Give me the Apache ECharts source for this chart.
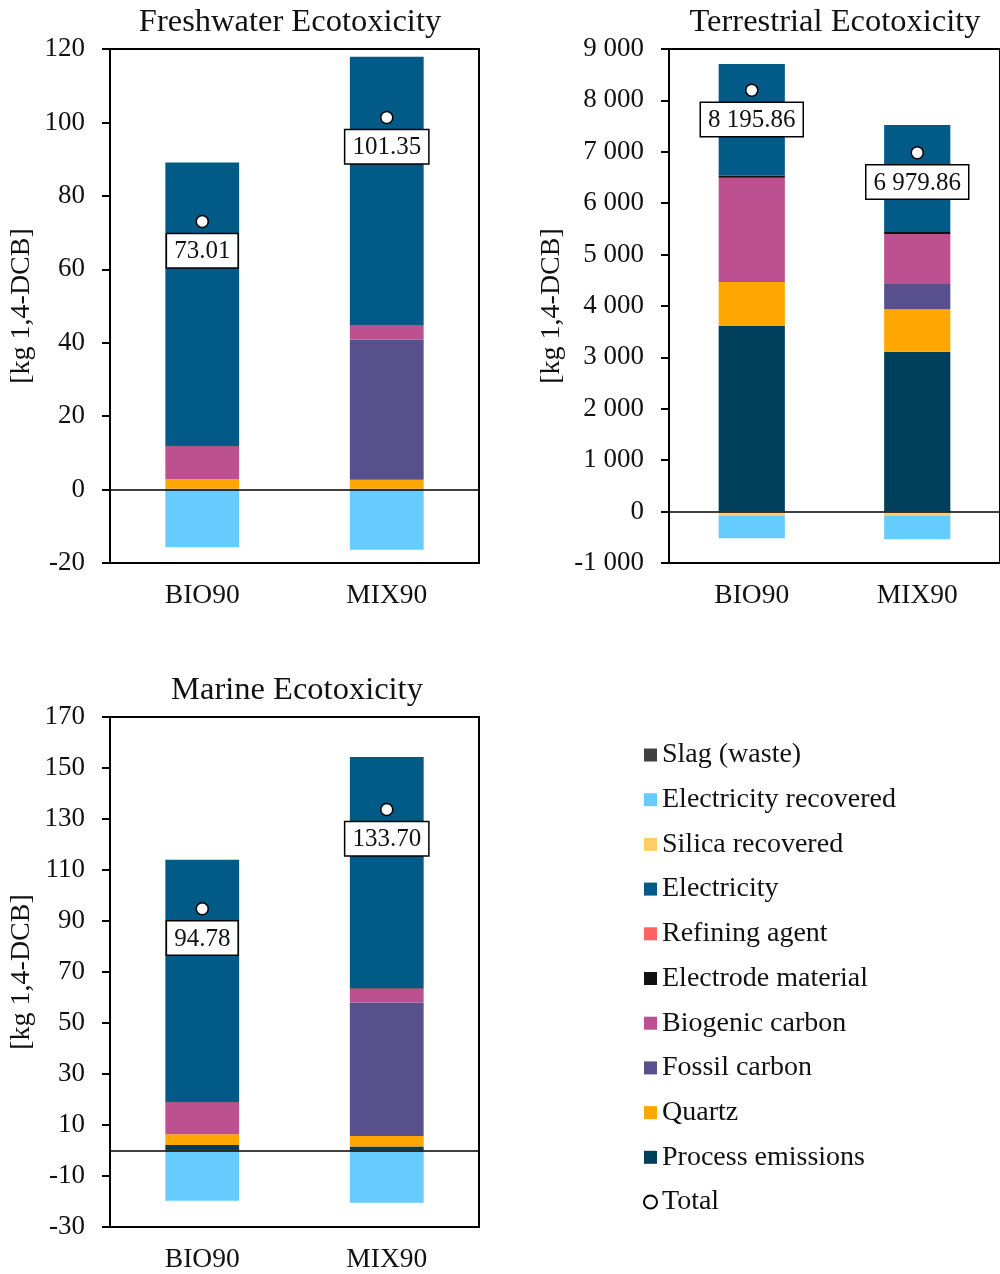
<!DOCTYPE html>
<html><head><meta charset="utf-8">
<script src="https://cdn.jsdelivr.net/npm/echarts@6/dist/echarts.min.js"></script>
<style>html,body{margin:0;padding:0;background:#fff}#c{width:1000px;height:1274px}</style>
</head><body><div id="c"></div>
<script>
const categories = ['BIO90', 'MIX90'];

// Freshwater Ecotoxicity [kg 1,4-DCB]
const fwProcess = [0.2, 0.2];
const fwQuartz = [2.7, 2.5];
const fwFossil = [0, 38.1];
const fwBiogenic = [8.9, 3.8];
const fwElectrode = [0.3, 0.1];
const fwRefining = [0, 0];
const fwElectricity = [77.0, 73.2];
const fwSilicaRec = [-0.1, -0.1];
const fwElecRec = [-15.6, -16.3];
const fwSlag = [0, 0];
const fwTotal = [73.01, 101.35];

// Terrestrial Ecotoxicity
const teProcess = [3610, 3110];
const teQuartz = [857, 826];
const teFossil = [0, 492];
const teBiogenic = [2030, 973];
const teElectrode = [40, 40];
const teRefining = [0, 0];
const teElectricity = [2170, 2080];
const teSilicaRec = [-75, -75];
const teElecRec = [-445, -465];
const teSlag = [0, 0];
const teTotal = [8195.86, 6979.86];

// Marine Ecotoxicity
const maProcess = [2.2, 1.6];
const maQuartz = [4.2, 4.1];
const maFossil = [0, 52.3];
const maBiogenic = [12.5, 5.5];
const maElectrode = [0.4, 0.2];
const maRefining = [0, 0];
const maElectricity = [94.7, 90.6];
const maSilicaRec = [-0.2, -0.2];
const maElecRec = [-19.5, -20.3];
const maSlag = [0, 0];
const maTotal = [94.78, 133.70];

const titles = ['Freshwater Ecotoxicity', 'Terrestrial Ecotoxicity', 'Marine Ecotoxicity'];
const yName = '[kg 1,4-DCB]';

const stackOrder = ['Process emissions','Quartz','Fossil carbon','Biogenic carbon','Electrode material','Refining agent','Electricity','Silica recovered','Electricity recovered','Slag (waste)'];
const legendOrder = ['Slag (waste)','Electricity recovered','Silica recovered','Electricity','Refining agent','Electrode material','Biogenic carbon','Fossil carbon','Quartz','Process emissions'];
const colors = {
  'Slag (waste)': '#404040',
  'Electricity recovered': '#66CCFF',
  'Silica recovered': '#FFCC66',
  'Electricity': '#025A87',
  'Refining agent': '#FF6361',
  'Electrode material': '#111111',
  'Biogenic carbon': '#BC5090',
  'Fossil carbon': '#58508D',
  'Quartz': '#FFA600',
  'Process emissions': '#003F5C'
};

const charts = [
  {key:'fw', arrs:[fwProcess,fwQuartz,fwFossil,fwBiogenic,fwElectrode,fwRefining,fwElectricity,fwSilicaRec,fwElecRec,fwSlag], total:fwTotal, min:-20, max:120, interval:20, sep:false},
  {key:'te', arrs:[teProcess,teQuartz,teFossil,teBiogenic,teElectrode,teRefining,teElectricity,teSilicaRec,teElecRec,teSlag], total:teTotal, min:-1000, max:9000, interval:1000, sep:true},
  {key:'ma', arrs:[maProcess,maQuartz,maFossil,maBiogenic,maElectrode,maRefining,maElectricity,maSilicaRec,maElecRec,maSlag], total:maTotal, min:-30, max:170, interval:20, sep:false}
];

const FONT = "'Liberation Serif', 'Times New Roman', serif";
function groupSpace(s) {
  const neg = s.startsWith('-');
  if (neg) s = s.slice(1);
  const parts = s.split('.');
  parts[0] = parts[0].replace(/\B(?=(\d{3})+(?!\d))/g, ' ');
  return (neg ? '-' : '') + parts.join('.');
}

const grids = [
  {left:110, top:49, width:369, height:514},
  {left:669, top:49, width:339, height:514},
  {left:110, top:717, width:369, height:512}
];
const nameGaps = [74, 103, 74];
const titlePos = [{x:290, y:1}, {x:835, y:1}, {x:297, y:669}];

const option = {
  animation: false,
  backgroundColor: '#fff',
  textStyle: {fontFamily: FONT},
  title: titles.map((t, i) => ({
    text: t, left: titlePos[i].x - 5, top: titlePos[i].y, textAlign: 'center',
    textStyle: {fontFamily: FONT, fontSize: 32.5, fontWeight: 'normal', color: '#111'}
  })),
  grid: grids.map(g => Object.assign({show:true, borderColor:'#000', borderWidth:2, backgroundColor:'transparent', containLabel:false}, g)),
  xAxis: charts.map((c, i) => ({
    type:'category', gridIndex:i, data:categories,
    axisLine:{show:true, onZero:false, lineStyle:{color:'#000', width:2}},
    axisTick:{show:false},
    axisLabel:{fontFamily:FONT, fontSize:27.5, color:'#111', margin:19}
  })),
  yAxis: charts.map((c, i) => ({
    type:'value', gridIndex:i, min:c.min, max:c.max, interval:c.interval,
    name: yName, nameLocation:'middle', nameGap: nameGaps[i],
    nameTextStyle:{fontFamily:FONT, fontSize:28, color:'#111'},
    axisLine:{show:true, lineStyle:{color:'#000', width:2}},
    axisTick:{show:true, inside:false, length:8, lineStyle:{color:'#000', width:2}},
    splitLine:{show:false},
    axisLabel:{fontFamily:FONT, fontSize:27, color:'#111', margin:25,
      formatter: v => c.sep ? groupSpace(String(v)) : String(v)}
  })),
  legend: {
    orient:'vertical', left:638, top:735, itemWidth:13, itemHeight:13, itemGap:14.7,
    textStyle:{fontFamily:FONT, fontSize:28, color:'#111', lineHeight:30},
    data: legendOrder.map(n => ({name:n, icon:'rect'})).concat([{name:'Total', icon:'circle'}])
  },
  series: []
};

charts.forEach((c, i) => {
  stackOrder.forEach((name, k) => {
    const s = {
      name, type:'bar', stack:c.key, xAxisIndex:i, yAxisIndex:i,
      data:c.arrs[k], barWidth:'40%',
      itemStyle:{color:colors[name]}
    };
    if (name === 'Electricity recovered') {
      s.markLine = {silent:true, symbol:['none','none'], label:{show:false},
        lineStyle:{color:'#000', width:1.5, type:'solid'}, data:[{yAxis:0}]};
    }
    option.series.push(s);
  });
  option.series.push({
    name:'Total', type:'scatter', xAxisIndex:i, yAxisIndex:i, data:c.total, z:10,
    symbol:'circle', symbolSize:12,
    itemStyle:{color:'#fff', borderColor:'#000', borderWidth:1.5, opacity:1},
    label:{show:true, position:'bottom', distance:6, fontFamily:FONT, fontSize:25, color:'#111',
      opacity:1, backgroundColor:'#fff', borderColor:'#000', borderWidth:1.5, padding:[5,7,3,7],
      formatter: p => c.sep ? groupSpace(p.value.toFixed(2)) : p.value.toFixed(2)}
  });
});

const chart = echarts.init(document.getElementById('c'), null, {renderer:'canvas'});
chart.setOption(option);
</script>
</body></html>
